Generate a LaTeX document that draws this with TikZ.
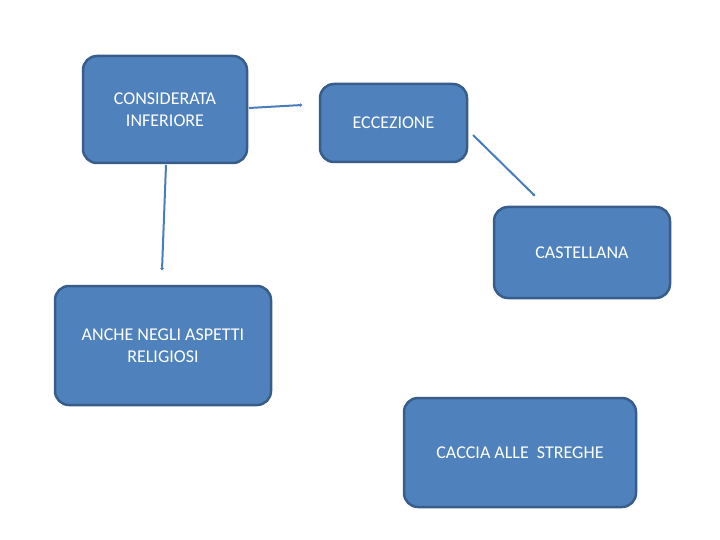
\documentclass[tikz,border=0pt]{standalone}
\usepackage{fontspec}
\setmainfont{Carlito}
\usetikzlibrary{arrows.meta}
\definecolor{boxfill}{HTML}{4F81BD}
\definecolor{boxline}{HTML}{385D8A}
\definecolor{conn}{HTML}{4A7EBB}
\begin{document}
\begin{tikzpicture}[x=1pt,y=-1pt,
  box/.style={draw=boxline,line width=2.5pt,fill=boxfill,rounded corners=14pt,
    text=white,align=center,font=\fontsize{18}{22}\selectfont,inner sep=0pt},
  conline/.style={draw=conn,line width=2pt,-{Circle[length=3pt]}}]
\useasboundingbox (0,0) rectangle (720,540);
\node[box,minimum width=164pt,minimum height=107pt] (b1) at (165,109.5) {CONSIDERATA\\INFERIORE};
\node[box,minimum width=147pt,minimum height=78pt,text depth=-3pt] (b2) at (393.5,123) {ECCEZIONE};
\node[box,minimum width=176pt,minimum height=91pt] (b3) at (582,252.5) {CASTELLANA};
\node[box,minimum width=216pt,minimum height=119pt] (b4) at (163,345.5) {ANCHE NEGLI ASPETTI\\RELIGIOSI};
\node[box,minimum width=232pt,minimum height=109pt] (b5) at (520,452.5) {CACCIA ALLE\ \ STREGHE};
\coordinate (s1) at (249,108);
\coordinate (e1) at (302,105);
\coordinate (s2) at (166,165);
\coordinate (e2) at (162,270);
\coordinate (s3) at (473,135);
\coordinate (e3) at (535,196);
\draw[conline] (s1) -- (e1);
\draw[conline] (s2) -- (e2);
\draw[conline] (s3) -- (e3);
\end{tikzpicture}
\end{document}
